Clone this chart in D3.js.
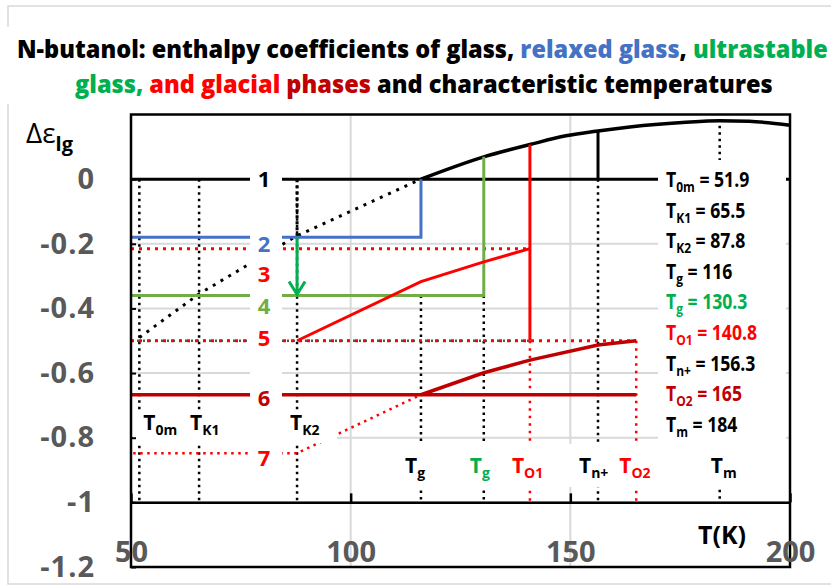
<!DOCTYPE html>
<html>
<head>
<meta charset="utf-8">
<script src="https://cdn.jsdelivr.net/npm/d3@7"></script>
<style>
  body{margin:0;background:#fff}
  svg{display:block;font-family:"Open Sans",sans-serif}
</style>
</head>
<body>
<svg id="chart" width="831" height="588"></svg>
<script>
// characteristic temperatures (K)
const tempValues = [51.9, 65.5, 87.8, 116, 130.3, 140.8, 156.3, 165, 184]
const tempSubs = ['0m', 'K1', 'K2', 'g', 'g', 'O1', 'n+', 'O2', 'm']
const legendText = ['51.9', '65.5', '87.8', '116', '130.3', '140.8', '156.3', '165', '184']
const legendColors = ['#000', '#000', '#000', '#000', '#00b050', '#ff0000', '#000', '#c00000', '#000']
const markColors = ['#000', '#000', '#000', '#000', '#00b050', '#ff0000', '#000', '#ff0000', '#000']

// liquid curve above Tg
const liquidT = [116, 130.3, 140.8, 149, 156.3, 164, 175.5, 184, 190.7, 200]
const liquidE = [0, 0.069, 0.107, 0.134, 0.149, 0.162, 0.175, 0.181, 0.179, 0.167]
// glass (1) extrapolated below Tg
const glassT = [51.9, 65.5, 87.8, 116]
const glassE = [-0.49, -0.355, -0.175, 0]
// glacial phase 3
const phase3T = [87.8, 116, 130.3, 140.8]
const phase3E = [-0.5, -0.317, -0.256, -0.215]
// glacial phase 6
const phase6T = [116, 130.3, 140.8, 156.3, 165]
const phase6E = [-0.667, -0.599, -0.56, -0.513, -0.5]
// phase 7
const phase7T = [50.5, 87.8, 116]
const phase7E = [-0.848, -0.848, -0.667]
// horizontal levels: glass, relaxed, phase3 end, ultrastable, phase5, phase6
const levels = [0, -0.18, -0.215, -0.36, -0.5, -0.667]

const lineNumbers = ['1', '2', '3', '4', '5', '6', '7']
const lineNumberE = [0, -0.202, -0.295, -0.392, -0.492, -0.676, -0.864]
const lineNumberColors = ['#000', '#4472c4', '#ff0000', '#70ad47', '#ff0000', '#c00000', '#ff0000']

const xTicks = [50, 100, 150, 200]
const yTicks = [-1.2, -1, -0.8, -0.6, -0.4, -0.2, 0]
const yTickLabels = ['-1.2', '-1', '-0.8', '-0.6', '-0.4', '-0.2', '0']

const svg = d3.select('#chart')
const x = d3.scaleLinear().domain([50, 200]).range([131, 790])
const y = d3.scaleLinear().domain([-1.2, 0.2]).range([567, 114.5])
const line = d3.line().x(d => x(d[0])).y(d => y(d[1]))
const smooth = d3.line().x(d => x(d[0])).y(d => y(d[1])).curve(d3.curveMonotoneX)
const zip = (a, b) => a.map((v, i) => [v, b[i]])

function path(pts, color, w, dash, gen){
  return svg.append('path')
    .attr('d', (gen || line)(pts))
    .attr('fill', 'none')
    .attr('stroke', color)
    .attr('stroke-width', w)
    .attr('stroke-dasharray', dash || null)
}
function whiteBox(x0, y0, x1, y1){
  svg.append('rect').attr('x', x0).attr('y', y0).attr('width', x1 - x0).attr('height', y1 - y0).attr('fill', '#fff')
}
function subLabel(t, base, sub, rest, subSize){
  t.append('tspan').text(base)
  t.append('tspan').attr('font-size', subSize).attr('dy', 5).text(sub)
  if (rest) t.append('tspan').attr('dy', -5).text(rest)
}

// outer chart border
svg.append('rect').attr('x', 8).attr('y', 6).attr('width', 840).attr('height', 578)
  .attr('fill', 'none').attr('stroke', '#d9d9d9').attr('stroke-width', 1.5)
whiteBox(4, 27, 831, 104)

// title
const titleLines = [
  [['N-butanol: enthalpy coefficients of glass, ', '#000'], ['relaxed glass', '#4472c4'], [', ', '#000'], ['ultrastable', '#00b050']],
  [['glass, ', '#00b050'], ['and glacial ', '#ff0000'], ['phases', '#c00000'], [' and characteristic temperatures', '#000']]
]
const titlePos = [[17, 58, 811], [75, 93, 698]]
titleLines.forEach((parts, i) => {
  const t = svg.append('text').attr('font-size', 25).attr('font-weight', 800)
  parts.forEach(p => t.append('tspan').attr('fill', p[1]).text(p[0]))
  const w = t.node().getComputedTextLength()
  const [tx, ty, tw] = titlePos[i]
  t.attr('transform', `translate(${tx},${ty}) scale(${tw / w},1)`)
})

// gridlines
svg.append('g').selectAll('line').data(yTicks).join('line')
  .attr('x1', x(50)).attr('x2', x(200)).attr('y1', d => y(d)).attr('y2', d => y(d))
  .attr('stroke', '#d9d9d9').attr('stroke-width', 2)
svg.append('g').selectAll('line').data([100, 150]).join('line')
  .attr('x1', d => x(d)).attr('x2', d => x(d)).attr('y1', y(0.2)).attr('y2', y(-1.2))
  .attr('stroke', '#d9d9d9').attr('stroke-width', 2)

// vertical marker lines
const liquidAt = d3.scaleLinear().domain(liquidT).range(liquidE)
const markTop = [0, 0, 0, -0.36, -0.36, -0.5, 0, -0.5, 0.165]
tempValues.forEach((t, i) => {
  const red = markColors[i] === '#ff0000'
  path([[t, markTop[i]], [t, -1]], red ? '#ff0000' : '#000', 2.5, red ? '2.5 5' : '2.5 4')
})
// denser overlay at TK2 between levels 1 and 2
path([[87.8, 0], [87.8, -0.18]], '#000', 3, '3 3')

// glass extrapolation
path(zip(glassT, glassE), '#000', 3, '3 6')

// level 1 and liquid
path([[50, levels[0]], [200, levels[0]]], '#000', 3)
path(zip(liquidT, liquidE), '#000', 3.5, null, smooth)
path([[156.3, 0], [156.3, liquidAt(156.3)]], '#000', 3)

// relaxed glass 2
path([[50, levels[1]], [116, levels[1]], [116, 0]], '#4472c4', 3)
// dotted at end of 3
path([[50, levels[2]], [140.8, levels[2]]], '#ff0000', 3, '3 5')
// ultrastable 4
path([[50, levels[3]], [130.3, levels[3]], [130.3, liquidAt(130.3)]], '#70ad47', 3)
// level 5
path([[50, levels[4]], [140.8, levels[4]]], '#555', 2.5, '2 4')
path([[50, levels[4]], [165, levels[4]]], '#ff0000', 3, '3 5')
// glacial 3
path(zip(phase3T, phase3E), '#ff0000', 3)
path([[140.8, -0.5], [140.8, liquidAt(140.8)]], '#ff0000', 3)
// glacial 6
path([[50, levels[5]], [165, levels[5]]], '#c00000', 3.5)
path(zip(phase6T, phase6E), '#c00000', 3.5)
// phase 7
path(zip(phase7T, phase7E), '#ff0000', 2.5, '2.5 4.5')

// arrow relaxed -> ultrastable
const ax = x(87.8), ay0 = y(levels[1]), ay1 = y(levels[3])
svg.append('path').attr('d', `M${ax},${ay0}V${ay1 - 1}M${ax - 8},${ay1 - 14}L${ax},${ay1 - 1}L${ax + 8},${ay1 - 14}`)
  .attr('fill', 'none').attr('stroke', '#00b050').attr('stroke-width', 3)

// label boxes
whiteBox(250, y(0) - 14, 282, y(-0.864) + 14)
whiteBox(133, 412, 337, 443)
whiteBox(400, 444, 745, 487)
whiteBox(658, 160, 786, 443)

// line numbers
svg.append('g').selectAll('text').data(lineNumbers).join('text')
  .attr('x', 264).attr('y', (d, i) => y(lineNumberE[i]))
  .attr('dy', '0.36em').attr('text-anchor', 'middle')
  .attr('font-size', 22).attr('font-weight', 700)
  .attr('fill', (d, i) => lineNumberColors[i])
  .text(d => d)

// temperature labels near the axis
const labelDx = [4, -9, -7, -16, -14, -18, -19, -17, -9]
tempValues.forEach((t, i) => {
  const tx = svg.append('text').attr('x', x(t) + labelDx[i]).attr('y', i < 3 ? 430 : 473)
    .attr('font-size', 21).attr('font-weight', 700).attr('fill', markColors[i])
  subLabel(tx, 'T', tempSubs[i], null, 14)
})

// legend of values
tempValues.forEach((t, i) => {
  const tx = svg.append('text')
    .attr('transform', `translate(666,${187 + i * 30.6}) scale(0.8,1)`)
    .attr('font-size', 22).attr('font-weight', 700).attr('fill', legendColors[i])
  subLabel(tx, 'T', tempSubs[i], ' = ' + legendText[i], 15)
})

// frame
svg.append('rect').attr('x', x(50)).attr('y', y(0.2)).attr('width', x(200) - x(50)).attr('height', y(-1.2) - y(0.2))
  .attr('fill', 'none').attr('stroke', '#000').attr('stroke-width', 2.5)

// axes
const yAxis = d3.axisLeft(y).tickValues(yTicks).tickFormat((d, i) => yTickLabels[i]).tickSizeInner(-5).tickSizeOuter(0).tickPadding(36)
const yG = svg.append('g').attr('transform', `translate(${x(50)},0)`).call(yAxis)
yG.select('.domain').remove()
yG.selectAll('line').attr('stroke', '#000').attr('stroke-width', 2)
yG.selectAll('text').attr('font-size', 29).attr('font-weight', 700).attr('letter-spacing', 1)
  .attr('fill', '#595959').attr('font-family', '"Open Sans",sans-serif')

const xAxis = d3.axisBottom(x).tickValues(xTicks).tickFormat(d3.format('d')).tickSizeInner(-9).tickSizeOuter(0).tickPadding(39)
const xG = svg.append('g').attr('transform', `translate(0,${y(-1)})`).call(xAxis)
xG.select('.domain').attr('stroke', '#000').attr('stroke-width', 2.5)
xG.selectAll('line').attr('stroke', '#000').attr('stroke-width', 2.5)
xG.selectAll('text').attr('font-size', 29).attr('font-weight', 700).attr('fill', '#595959').attr('font-family', '"Open Sans",sans-serif')

// axis titles
svg.append('text').attr('x', 698).attr('y', 544).attr('font-size', 25).attr('font-weight', 700).text('T(K)')
const yt = svg.append('text').attr('x', 26).attr('y', 143).attr('font-size', 28)
yt.append('tspan').text('Δε')
yt.append('tspan').attr('font-size', 20).attr('font-weight', 700).attr('dy', 8).text('lg')
</script>
</body>
</html>
